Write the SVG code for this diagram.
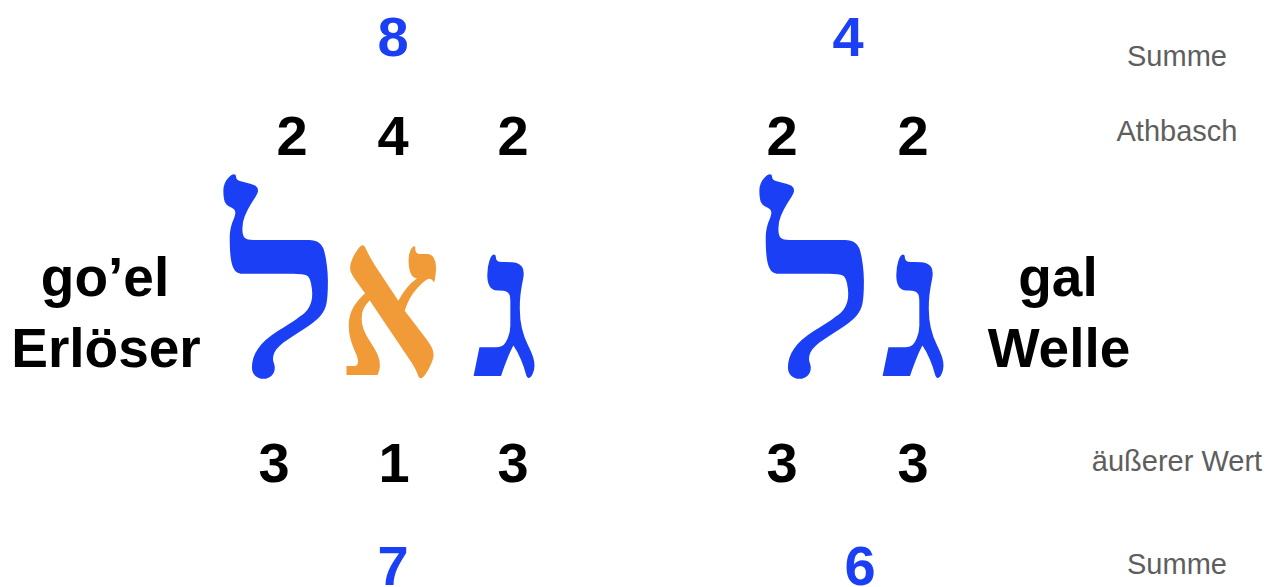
<svg xmlns="http://www.w3.org/2000/svg" width="1273" height="587" viewBox="0 0 1273 587">
<style>
.num{font-family:"Liberation Sans",Arial,sans-serif;font-weight:bold;font-size:56px;text-anchor:middle;fill:#000}
.sum{fill:#1a3ff5}
.word{font-family:"Liberation Sans",Arial,sans-serif;font-weight:bold;font-size:55px;text-anchor:middle;fill:#000}
.lbl{font-family:"Liberation Sans",Arial,sans-serif;font-size:29px;text-anchor:middle;fill:#5e5e5e}
.heb{font-family:"Liberation Serif","DejaVu Serif",serif;font-weight:bold;text-anchor:middle}
.blue{fill:#1a3ff5}
.orange{fill:#f09a38}
</style>
<rect width="1273" height="587" fill="#fff"/>
<g id="left-word">
<text class="heb blue" x="283" y="376" font-size="245">ל</text>
<text class="heb orange" font-size="220" transform="translate(390,376) scale(0.72,1)">א</text>
<text class="heb blue" x="506" y="376" font-size="206">ג</text>
</g>
<g id="right-word">
<text class="heb blue" x="819" y="376" font-size="245">ל</text>
<text class="heb blue" x="915" y="376" font-size="206">ג</text>
</g>
<g id="left-labels">
<text class="word" x="105" y="296">go’el</text>
<text class="word" x="106" y="367">Erlöser</text>
</g>
<g id="right-labels">
<text class="word" x="1058" y="296">gal</text>
<text class="word" x="1059" y="367">Welle</text>
</g>
<g id="left-numbers">
<text class="num sum" x="393" y="56">8</text>
<text class="num" x="292" y="155">2</text>
<text class="num" x="393" y="155">4</text>
<text class="num" x="513" y="155">2</text>
<text class="num" x="274" y="482">3</text>
<text class="num" x="394" y="482">1</text>
<text class="num" x="513" y="482">3</text>
<text class="num sum" x="393" y="585">7</text>
</g>
<g id="right-numbers">
<text class="num sum" x="848" y="56">4</text>
<text class="num" x="782" y="155">2</text>
<text class="num" x="913" y="155">2</text>
<text class="num" x="782" y="482">3</text>
<text class="num" x="913" y="482">3</text>
<text class="num sum" x="860" y="585">6</text>
</g>
<g id="row-labels">
<text class="lbl" x="1177" y="66">Summe</text>
<text class="lbl" x="1177" y="141">Athbasch</text>
<text class="lbl" x="1177" y="471">äußerer Wert</text>
<text class="lbl" x="1177" y="574">Summe</text>
</g>
</svg>
